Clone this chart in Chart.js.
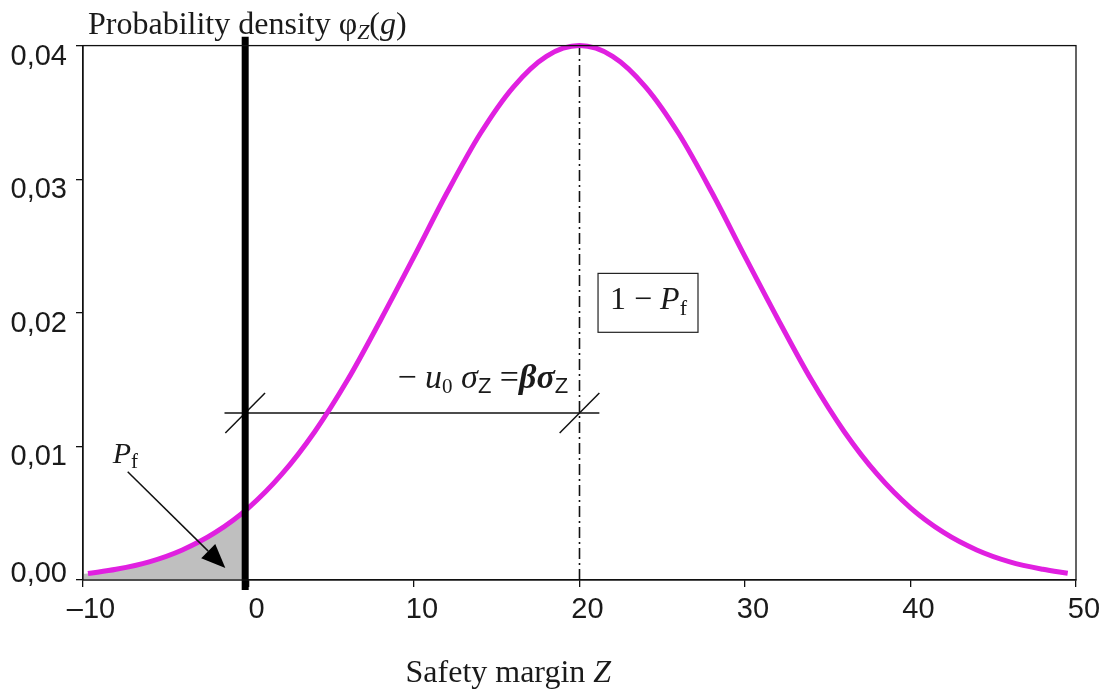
<!DOCTYPE html>
<html>
<head>
<meta charset="utf-8">
<title>Safety margin density</title>
<script src="https://cdn.jsdelivr.net/npm/chart.js@4.4.1/dist/chart.umd.min.js"></script>
<style>
    html, body { margin: 0; padding: 0; background: #fff; }
    #wrap { width: 1104px; height: 690px; }
</style>
</head>
<body>
<div id="wrap"><canvas id="densityChart" width="1104" height="690"></canvas></div>
<script>
// density curve of the safety margin Z
const zValues = [-9.7, -8, -6, -4, -2, 0, 2, 4, 6, 8, 10, 12, 14, 16, 18, 20,
    22, 24, 26, 28, 30, 32, 34, 36, 38, 40, 42, 44, 46, 48, 49.5];
const densityValues = [0.00048, 0.0008, 0.00136, 0.00225, 0.00356, 0.0054, 0.0079, 0.0111, 0.015, 0.0195,
    0.0242, 0.029, 0.0334, 0.0369, 0.0392, 0.04, 0.0392, 0.0369, 0.0334, 0.029,
    0.0242, 0.0195, 0.015, 0.0111, 0.0079, 0.0054, 0.00356, 0.00225, 0.00136, 0.0008, 0.0005];

// failure region (shaded) left of the limit state
const failZ = [-10, -8, -6, -4, -2, -0.2];
const failDensity = [0.00044, 0.0008, 0.00136, 0.00225, 0.00356, 0.0052];

// limit state Z = 0 line and mean line
const limitZ = [-0.2, -0.2];
const limitY = [-0.00075, 0.04067];
const meanZ = [20, 20];
const meanY = [0, 0.04];

// distance beta*sigma between limit state and mean, with slash marks
const spanZ = [-1.45, 21.2];
const spanY = [0.0125, 0.0125];
const slashLeftZ = [-1.4, 1.0];
const slashRightZ = [18.8, 21.2];
const slashY = [0.011, 0.014];

// Pf arrow: tail, then tip
const arrowZ = [-7.3, -1.4];
const arrowY = [0.0081, 0.0009];

const xTicks = [-10, 0, 10, 20, 30, 40, 50];
const yTicks = [0, 0.01, 0.02, 0.03, 0.04];

const serif = '"Liberation Serif", "Times New Roman", serif';
const sans = '"Liberation Sans", Arial, sans-serif';

function pts(xs, ys) {
    return xs.map((x, i) => ({ x: x, y: ys[i] }));
}

function lineSet(xs, ys, color, width, order, dash) {
    return {
        data: pts(xs, ys),
        borderColor: color,
        borderWidth: width,
        borderDash: dash || [],
        pointRadius: 0,
        fill: false,
        clip: false,
        order: order
    };
}

// draws a row of text pieces with their own fonts and baseline shifts
function drawRuns(ctx, x, y, runs) {
    let cx = x;
    runs.forEach(r => {
        ctx.font = r.font;
        ctx.fillText(r.t, cx, y + (r.dy || 0));
        cx += ctx.measureText(r.t).width;
    });
    return cx - x;
}

function runsWidth(ctx, runs) {
    let w = 0;
    runs.forEach(r => { ctx.font = r.font; w += ctx.measureText(r.t).width; });
    return w;
}

const notesPlugin = {
    id: 'notes',
    afterDraw(chart) {
        const ctx = chart.ctx;
        const xs = chart.scales.x, ys = chart.scales.y;
        const area = chart.chartArea;
        const px = v => xs.getPixelForValue(v);
        const py = v => ys.getPixelForValue(v);

        ctx.save();
        // frame around the plot
        ctx.strokeStyle = '#111';
        ctx.lineWidth = 1.3;
        ctx.strokeRect(area.left, area.top, area.right - area.left, area.bottom - area.top);

        // arrow to the failure area
        const x0 = px(arrowZ[0]), y0 = py(arrowY[0]);
        const x1 = px(arrowZ[1]), y1 = py(arrowY[1]);
        const ang = Math.atan2(y1 - y0, x1 - x0);
        const head = 24, half = 10;
        const bx = x1 - head * Math.cos(ang), by = y1 - head * Math.sin(ang);
        ctx.strokeStyle = '#111';
        ctx.lineWidth = 1.5;
        ctx.beginPath();
        ctx.moveTo(x0, y0);
        ctx.lineTo(bx, by);
        ctx.stroke();
        ctx.fillStyle = '#000';
        ctx.beginPath();
        ctx.moveTo(x1, y1);
        ctx.lineTo(bx + half * Math.sin(ang), by - half * Math.cos(ang));
        ctx.lineTo(bx - half * Math.sin(ang), by + half * Math.cos(ang));
        ctx.closePath();
        ctx.fill();

        ctx.fillStyle = '#1a1a1a';
        ctx.textBaseline = 'alphabetic';
        ctx.textAlign = 'left';

        // y axis title
        drawRuns(ctx, area.left + 5, area.top - 12, [
            { t: 'Probability density ', font: '32px ' + serif },
            { t: 'φ', font: '32px ' + serif },
            { t: 'Z', font: 'italic 22px ' + serif, dy: 5 },
            { t: '(', font: '32px ' + serif },
            { t: 'g', font: 'italic 32px ' + serif },
            { t: ')', font: '32px ' + serif }
        ]);

        // x axis title
        const xt = [
            { t: 'Safety margin ', font: '32px ' + serif },
            { t: 'Z', font: 'italic 32px ' + serif }
        ];
        drawRuns(ctx, px(15.7) - runsWidth(ctx, xt) / 2, chart.height - 8, xt);

        // Pf label
        drawRuns(ctx, px(-8.2), py(0.00875), [
            { t: 'P', font: 'italic 30px ' + serif },
            { t: 'f', font: '21px ' + serif, dy: 5 }
        ]);

        // beta sigma label
        drawRuns(ctx, px(9.0), py(0.01436), [
            { t: '− ', font: '34px ' + serif },
            { t: 'u', font: 'italic 34px ' + serif },
            { t: '0', font: '21px ' + serif, dy: 5 },
            { t: ' σ', font: 'italic 34px ' + serif },
            { t: 'Z', font: '22px ' + sans, dy: 5 },
            { t: ' =', font: '34px ' + serif },
            { t: 'βσ', font: 'italic bold 34px ' + serif },
            { t: 'Z', font: '22px ' + sans, dy: 5 }
        ]);

        // boxed 1 - Pf
        const bl = px(21.12), br = px(27.16), bt = py(0.02295), bb = py(0.01854);
        ctx.strokeStyle = '#222';
        ctx.lineWidth = 1.2;
        ctx.strokeRect(bl, bt, br - bl, bb - bt);
        drawRuns(ctx, bl + 12, py(0.0203), [
            { t: '1 − ', font: '32px ' + serif },
            { t: 'P', font: 'italic 32px ' + serif },
            { t: 'f', font: '22px ' + serif, dy: 6 }
        ]);
        ctx.restore();
    }
};

const tickFont = { family: sans, size: 29 };

new Chart(document.getElementById('densityChart'), {
    type: 'line',
    data: {
        datasets: [
            {
                data: pts(failZ, failDensity),
                borderWidth: 0,
                backgroundColor: '#bfbfbf',
                pointRadius: 0,
                fill: 'origin',
                cubicInterpolationMode: 'monotone',
                order: 6
            },
            lineSet(meanZ, meanY, '#111', 1.6, 5, [11, 4, 2, 4]),
            Object.assign(lineSet(zValues, densityValues, '#e020e0', 5, 3), { cubicInterpolationMode: 'monotone' }),
            lineSet(spanZ, spanY, '#111', 1.5, 4),
            lineSet(slashLeftZ, slashY, '#111', 1.5, 4),
            lineSet(slashRightZ, slashY, '#111', 1.5, 4),
            lineSet(limitZ, limitY, '#000', 7, 1)
        ]
    },
    options: {
        responsive: false,
        animation: false,
        layout: { padding: { top: 45.6, right: 28, left: 0, bottom: 0 } },
        plugins: { legend: { display: false }, tooltip: { enabled: false } },
        scales: {
            x: {
                type: 'linear',
                min: -10,
                max: 50,
                afterBuildTicks: s => { s.ticks = xTicks.map(v => ({ value: v })); },
                afterFit: s => { s.height = 110; },
                border: { display: true, color: '#111', width: 1.3 },
                grid: { display: true, drawOnChartArea: false, drawTicks: true, tickLength: 7, color: '#111', lineWidth: 1.3 },
                ticks: {
                    font: tickFont,
                    color: '#1a1a1a',
                    padding: 6,
                    labelOffset: 8,
                    maxRotation: 0,
                    callback: v => v < 0 ? '–' + Math.abs(v) : String(v)
                }
            },
            y: {
                min: 0,
                max: 0.04,
                afterBuildTicks: s => { s.ticks = yTicks.map(v => ({ value: v })); },
                afterFit: s => { s.width = 83; },
                border: { display: true, color: '#111', width: 1.3 },
                grid: { display: true, drawOnChartArea: false, drawTicks: true, tickLength: 7, color: '#111', lineWidth: 1.3 },
                ticks: {
                    font: tickFont,
                    color: '#1a1a1a',
                    padding: 9,
                    labelOffset: 11,
                    // the zero label sits above its tick
                    callback: v => v === 0 ? ['0,00', ''] : v.toFixed(2).replace('.', ',')
                }
            }
        }
    },
    plugins: [notesPlugin]
});
</script>
</body>
</html>
